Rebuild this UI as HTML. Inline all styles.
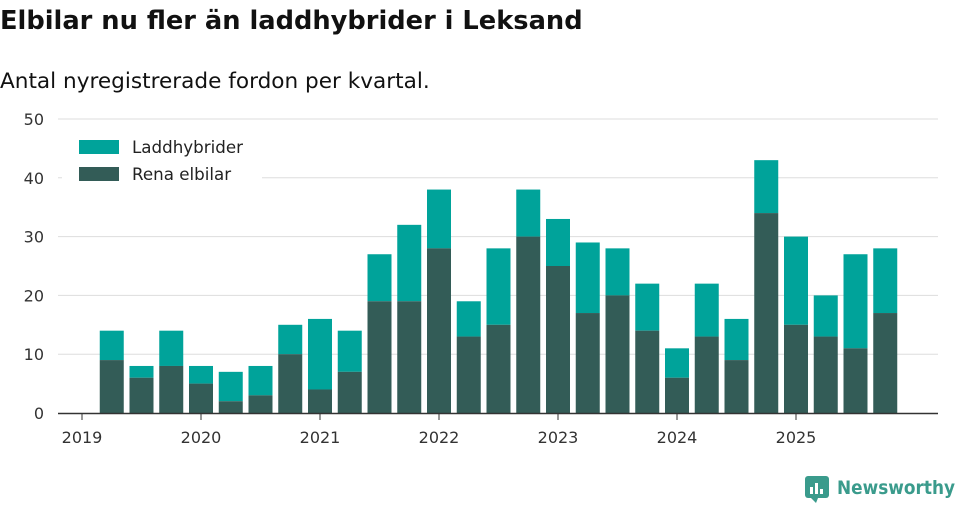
<!DOCTYPE html>
<html><head><meta charset="utf-8"><style>
body{margin:0;background:#fff;width:960px;height:505px;overflow:hidden;font-family:"DejaVu Sans","Liberation Sans",sans-serif;}
svg text{font-family:"DejaVu Sans","Liberation Sans",sans-serif;}
</style></head><body>
<svg id="chart" width="960" height="505">
<text x="0" y="29" font-size="25.7" font-weight="bold" fill="#111">Elbilar nu fler än laddhybrider i Leksand</text>
<text x="0" y="88" font-size="21.6" fill="#111">Antal nyregistrerade fordon per kvartal.</text>
<g id="grid"></g><g id="bars"></g><g id="xaxis"></g>
<g>
<rect x="62" y="132" width="200" height="60" fill="#fff"/>
<rect x="79" y="140" width="40" height="14" fill="#00a39a"/>
<text x="132" y="153" font-size="16.7" fill="#222">Laddhybrider</text>
<rect x="79" y="167" width="40" height="14" fill="#335c57"/>
<text x="132" y="180" font-size="16.7" fill="#222">Rena elbilar</text>
</g>
<g>
<rect x="805" y="476" width="24" height="22" rx="3" fill="#3a9b8c"/>
<path d="M811 498 L816 503 L818 498Z" fill="#3a9b8c"/>
<rect x="810" y="487" width="3" height="7" fill="#fff"/><rect x="815" y="483" width="3" height="11" fill="#fff"/><rect x="820" y="489" width="3" height="5" fill="#fff"/>
<text x="837" y="494" font-size="19" font-weight="bold" fill="#3a9b8c" textLength="118" lengthAdjust="spacingAndGlyphs">Newsworthy</text>
</g>
</svg>
<script>
const elbilar=[9,6,8,5,2,3,10,4,7,19,19,28,13,15,30,25,17,20,14,6,13,9,34,15,13,11,17];
const totals=[14,8,14,8,7,8,15,16,14,27,32,38,19,28,38,33,29,28,22,11,22,16,43,30,20,27,28];
const yTicks=[0,10,20,30,40,50];
const xTicks=["2019","2020","2021","2022","2023","2024","2025"];
const NS="http://www.w3.org/2000/svg";
function y(v){return 413-v*5.88;}
function xYear(t){return 82+t*119;}
function mk(tag,attrs,parent){const e=document.createElementNS(NS,tag);for(const k in attrs)e.setAttribute(k,attrs[k]);parent.appendChild(e);return e;}
const grid=document.getElementById('grid'),bars=document.getElementById('bars'),xa=document.getElementById('xaxis');
yTicks.forEach(v=>{
 if(v>0){const l=mk('line',{x1:58,x2:938,y1:y(v),y2:y(v),stroke:'#ddd','stroke-width':1},grid);
 
 }
 const t=mk('text',{x:44,y:y(v)+6,'font-size':16,fill:'#333','text-anchor':'end'},grid);t.textContent=v;
 
 
});
elbilar.forEach((e,i)=>{
 const cx=xYear((i+1)/4),w=24,tot=totals[i];
 const top=mk('rect',{x:cx-w/2,y:y(tot),width:w,height:y(e)-y(tot),fill:'#00a39a'},bars);
 
 
 const b=mk('rect',{x:cx-w/2,y:y(e),width:w,height:413-y(e),fill:'#335c57'},bars);
 
 
});
const ax=mk('line',{x1:58,x2:938,y1:413.5,y2:413.5,stroke:'#333','stroke-width':1.5},xa);


xTicks.forEach((lab,i)=>{
 const x=xYear(i);
 const tk=mk('line',{x1:x,x2:x,y1:413,y2:420,stroke:'#333'},xa);
 
 
 const t=mk('text',{x:x,y:443,'font-size':16,fill:'#333','text-anchor':'middle'},xa);t.textContent=lab;
 
 
});
</script>
</body></html>
